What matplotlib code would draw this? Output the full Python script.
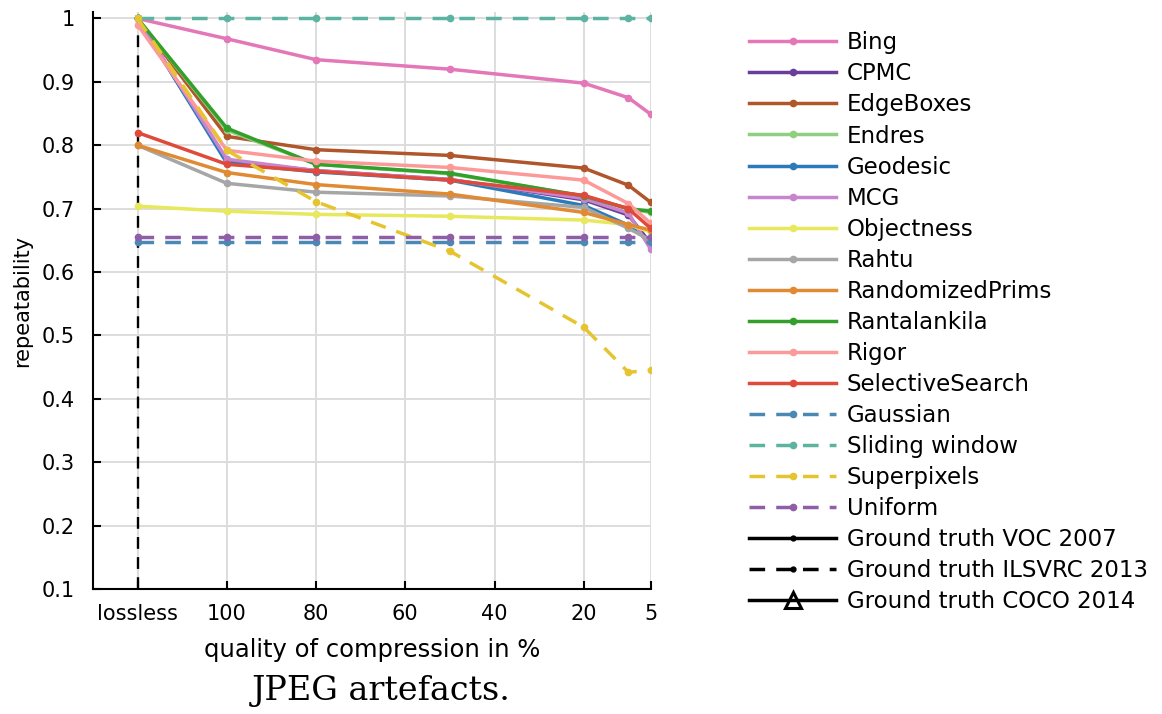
import matplotlib
matplotlib.use("Agg")
import matplotlib.pyplot as plt
from matplotlib.lines import Line2D

# quality of compression (lossless drawn at 120)
quality = [120, 100, 80, 50, 20, 10, 5]
tick_pos = [120, 100, 80, 60, 40, 20, 5]
tick_labels = ["lossless", "100", "80", "60", "40", "20", "5"]

bing = [1.0, 0.968, 0.935, 0.920, 0.898, 0.875, 0.849]
cpmc = [1.0, 0.775, 0.760, 0.746, 0.714, 0.690, 0.645]
edgeboxes = [1.0, 0.814, 0.793, 0.784, 0.764, 0.737, 0.710]
endres = [1.0, 0.824, 0.770, 0.755, 0.720, 0.700, 0.694]
geodesic = [1.0, 0.772, 0.758, 0.745, 0.705, 0.674, 0.647]
mcg = [1.0, 0.778, 0.760, 0.746, 0.716, 0.693, 0.636]
objectness = [0.704, 0.696, 0.691, 0.688, 0.682, 0.675, 0.663]
rahtu = [0.800, 0.740, 0.726, 0.720, 0.702, 0.669, 0.650]
randprims = [0.800, 0.757, 0.738, 0.723, 0.694, 0.675, 0.666]
rantalankila = [1.0, 0.827, 0.770, 0.756, 0.720, 0.700, 0.696]
rigor = [0.99, 0.792, 0.775, 0.765, 0.745, 0.708, 0.677]
selsearch = [0.820, 0.770, 0.759, 0.745, 0.721, 0.700, 0.669]
gaussian = [0.648, 0.648, 0.648, 0.648, 0.648, 0.648, 0.648]
sliding = [1.0, 1.0, 1.0, 1.0, 1.0, 1.0, 1.0]
superpixels = [1.0, 0.792, 0.711, 0.633, 0.513, 0.442, 0.445]
uniform = [0.655, 0.655, 0.655, 0.655, 0.655, 0.655, 0.655]

solid = [
    ("Bing", bing, "#e377b8"),
    ("CPMC", cpmc, "#6a3d9a"),
    ("EdgeBoxes", edgeboxes, "#b0562a"),
    ("Endres", endres, "#8fcf80"),
    ("Geodesic", geodesic, "#2b7bba"),
    ("MCG", mcg, "#c685cc"),
    ("Objectness", objectness, "#e8e85c"),
    ("Rahtu", rahtu, "#a6a6a6"),
    ("RandomizedPrims", randprims, "#e08a34"),
    ("Rantalankila", rantalankila, "#33a02c"),
    ("Rigor", rigor, "#fb9a99"),
    ("SelectiveSearch", selsearch, "#e04a3a"),
]
dashed = [
    ("Gaussian", gaussian, "#4b88b4"),
    ("Sliding window", sliding, "#5cb4a0"),
    ("Superpixels", superpixels, "#e6c430"),
    ("Uniform", uniform, "#8f5ea6"),
]

plt.rcParams["font.family"] = ["DejaVu Sans"]
LW = 2.5
DASH = (4.5, 3.2)

fig = plt.figure(figsize=(11.62, 7.14), dpi=100)
ax = fig.add_axes([0.080, 0.175, 0.480, 0.808])

# separator at lossless
ax.plot([120, 120], [0.1, 1.01], color="black", lw=1.7, dashes=(5, 3.5), zorder=3)

handles = []
for name, vals, col in solid:
    h, = ax.plot(quality, vals, "-", color=col, lw=LW, marker="o", ms=4.5, label=name, zorder=4)
    handles.append(h)
for name, vals, col in dashed:
    h, = ax.plot(quality, vals, "--", color=col, lw=LW, marker="o", ms=4.5, dashes=DASH,
                 label=name, zorder=4)
    handles.append(h)

handles.append(Line2D([], [], color="black", lw=LW, marker="o", ms=3.5, label="Ground truth VOC 2007"))
handles.append(Line2D([], [], color="black", lw=LW, marker="o", ms=3.5, dashes=DASH,
                      label="Ground truth ILSVRC 2013"))
handles.append(Line2D([], [], color="black", lw=LW, marker="^", ms=11, mfc="none", mew=2.2,
                      label="Ground truth COCO 2014"))

ax.set_xlim(130, 5)
ax.set_ylim(0.1, 1.01)
ax.set_xticks(tick_pos)
ax.set_xticklabels(tick_labels)
ax.set_yticks([0.1, 0.2, 0.3, 0.4, 0.5, 0.6, 0.7, 0.8, 0.9, 1.0])
ax.set_yticklabels(["0.1", "0.2", "0.3", "0.4", "0.5", "0.6", "0.7", "0.8", "0.9", "1"])
ax.grid(True, color="#dddddd", lw=1.4)
ax.set_axisbelow(True)
ax.spines["top"].set_visible(False)
ax.spines["right"].set_visible(False)
ax.spines["left"].set_linewidth(1.5)
ax.spines["bottom"].set_linewidth(1.5)
ax.tick_params(direction="in", length=6, width=1.5, labelsize=15)
ax.tick_params(axis="x", pad=11)
ax.tick_params(axis="y", pad=13)
ax.set_xlabel("quality of compression in %", fontsize=17.5, labelpad=10)
ax.set_ylabel("repeatability", fontsize=15, labelpad=7)

fig.text(0.328, 0.032, "JPEG artefacts.", family=["DejaVu Serif"],
         fontsize=24, ha="center", va="center")

fig.legend(handles=handles, loc="upper left", bbox_to_anchor=(0.635, 0.972), frameon=False,
           fontsize=16.5, handlelength=3.8, labelspacing=0.35, handletextpad=0.45, borderpad=0)

fig.savefig("out.png", dpi=100)
